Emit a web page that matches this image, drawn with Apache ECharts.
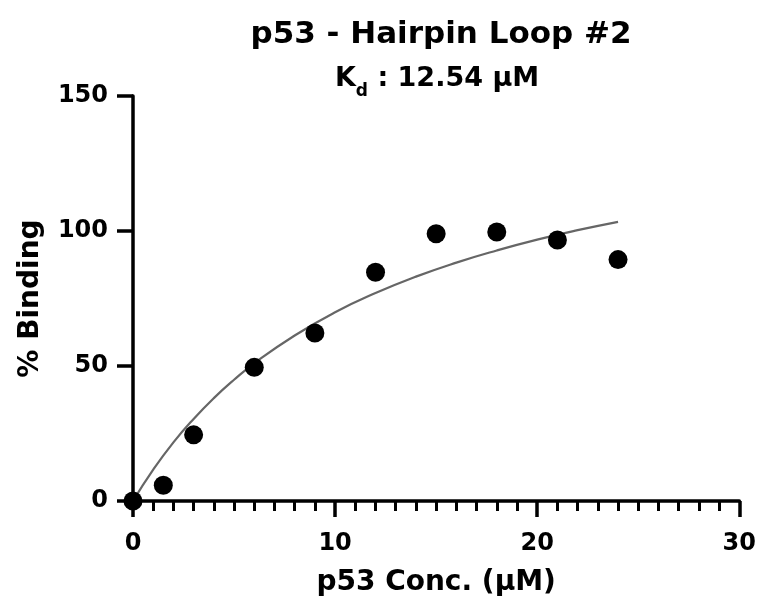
<!DOCTYPE html>
<html>
<head>
<meta charset="utf-8">
<script src="https://cdn.jsdelivr.net/npm/echarts@6/dist/echarts.min.js"></script>
<style>html,body{margin:0;padding:0;background:#fff}#c{width:759px;height:607px}</style>
</head>
<body>
<div id="c"></div>
<script>
const titleText = 'p53 - Hairpin Loop #2';
const kdValue = '12.54 μM';
const xName = 'p53 Conc. (μM)';
const yName = '% Binding';
const concentrations = [0, 1.5, 3, 6, 9, 12, 15, 18, 21, 24];
const bindingPct = [0, 5.8, 24.5, 49.5, 62.2, 84.7, 99.0, 99.6, 96.7, 89.4];
const fitConc = [0, 1, 2, 3, 4, 5, 6, 8, 10, 12, 14, 16, 18, 20, 22, 24];
const fitBinding = [0, 11.6, 21.7, 30.4, 38.1, 44.9, 51.0, 61.3, 69.9, 77.0, 83.1, 88.3, 92.8, 96.8, 100.3, 103.4];

const FONT = 'DejaVu Sans';
const chart = echarts.init(document.getElementById('c'), null, {renderer: 'canvas'});
chart.setOption({
  animation: false,
  backgroundColor: '#fff',
  title: [
    {
      text: titleText, left: 436, top: 14, textAlign: 'center',
      textStyle: {fontFamily: FONT, fontWeight: 'bold', fontSize: 31, color: '#000'}
    },
    {
      text: '{k|K}{d|d}{k| : ' + kdValue + '}', left: 432, top: 60, textAlign: 'center',
      textStyle: {
        rich: {
          k: {fontFamily: FONT, fontWeight: 'bold', fontSize: 27, lineHeight: 30, verticalAlign: 'top', color: '#000'},
          d: {fontFamily: FONT, fontWeight: 'bold', fontSize: 17, lineHeight: 17, verticalAlign: 'top', padding: [18, 0, 0, 0], color: '#000'}
        }
      }
    }
  ],
  grid: {left: 133, right: 19, top: 96, bottom: 106, containLabel: false},
  xAxis: {
    type: 'value', min: 0, max: 30, interval: 10,
    name: xName, nameLocation: 'middle', nameGap: 68,
    nameTextStyle: {fontFamily: FONT, fontWeight: 'bold', fontSize: 28, color: '#000'},
    axisLine: {show: true, onZero: false, lineStyle: {color: '#000', width: 3.5}},
    axisTick: {show: true, inside: false, length: 16, lineStyle: {color: '#000', width: 3.5}},
    minorTick: {show: true, splitNumber: 10, length: 10, lineStyle: {color: '#000', width: 3}},
    axisLabel: {margin: 31, fontFamily: FONT, fontWeight: 'bold', fontSize: 24, color: '#000'},
    splitLine: {show: false}, minorSplitLine: {show: false}
  },
  yAxis: {
    type: 'value', min: 0, max: 150, interval: 50,
    name: yName, nameLocation: 'middle', nameGap: 88,
    nameTextStyle: {fontFamily: FONT, fontWeight: 'bold', fontSize: 28, color: '#000'},
    axisLine: {show: true, onZero: false, lineStyle: {color: '#000', width: 3.5}},
    axisTick: {show: true, inside: false, length: 16, lineStyle: {color: '#000', width: 3.5}},
    axisLabel: {margin: 25, fontFamily: FONT, fontWeight: 'bold', fontSize: 24, color: '#000'},
    splitLine: {show: false}
  },
  series: [
    {
      type: 'line', data: fitConc.map((x, i) => [x, fitBinding[i]]),
      smooth: true, showSymbol: false, symbol: 'none',
      lineStyle: {color: '#666666', width: 2.2}, z: 2, silent: true
    },
    {
      type: 'scatter', data: concentrations.map((x, i) => [x, bindingPct[i]]),
      symbol: 'circle', symbolSize: 19, itemStyle: {color: '#000', opacity: 1}, z: 5, silent: true
    }
  ]
});
</script>
</body>
</html>
